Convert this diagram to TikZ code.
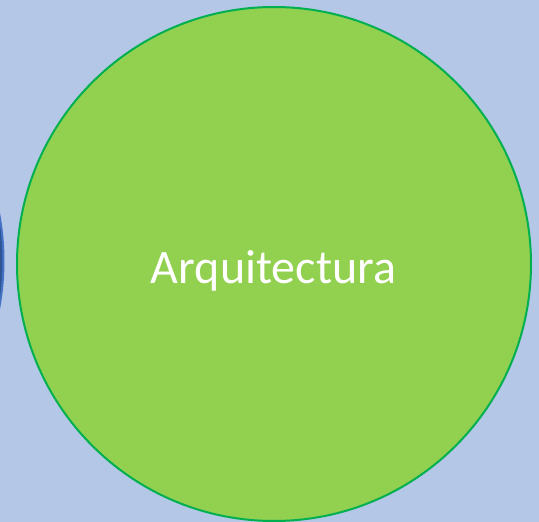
\documentclass[tikz,border=0pt]{standalone}
\usepackage{fontspec}
\setmainfont{Carlito}
\definecolor{bgblue}{HTML}{B4C7E7}
\definecolor{leafgreen}{HTML}{92D050}
\definecolor{rimgreen}{HTML}{00B050}
\definecolor{darkblue}{HTML}{2F5597}
\definecolor{rimblue}{HTML}{4472C4}
\begin{document}
\begin{tikzpicture}[x=1pt,y=-1pt,
  bigcircle/.style={circle, minimum size=514pt, inner sep=0pt, line width=2pt},
  labeltext/.style={text=white, font=\fontsize{48}{56}\selectfont, inner sep=0pt, anchor=base}]
\fill[bgblue] (0,0) rectangle (539,522);
\useasboundingbox (0,0) rectangle (539,522);
\begin{scope}
\clip (0,0) rectangle (539,522);
\node[bigcircle, draw=rimblue, fill=darkblue] (side) at (-253.5,261) {};
\end{scope}
\node[bigcircle, draw=rimgreen, fill=leafgreen] (arq) at (274,264) {};
\node[labeltext] (arqtext) at (273.5,283) {Arquitectura};
\end{tikzpicture}
\end{document}
